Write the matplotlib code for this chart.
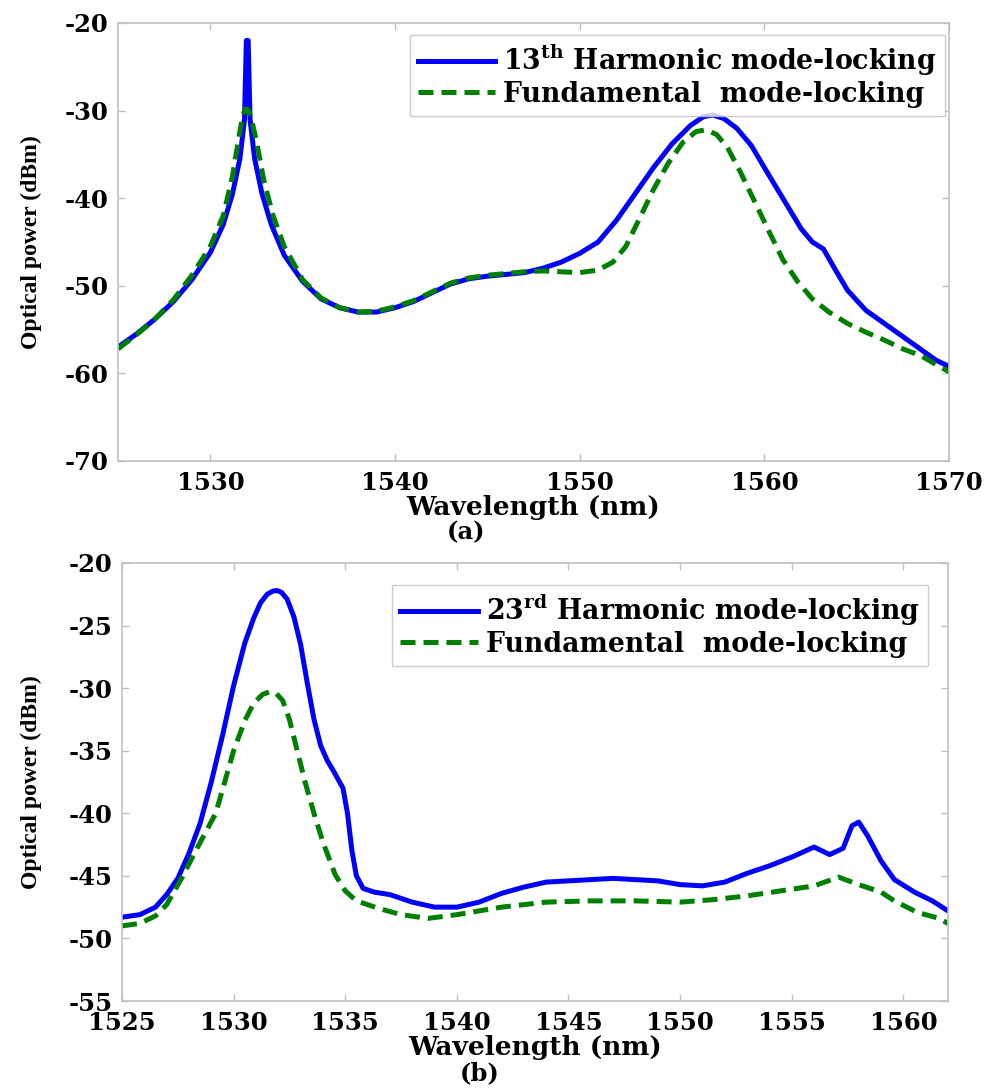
import matplotlib
matplotlib.use("Agg")
import matplotlib.pyplot as plt

# ---- data ----
# (a) 13th harmonic vs fundamental
wl_a_harm = [1525, 1526, 1527, 1528, 1529, 1530, 1530.7, 1531.2, 1531.6, 1531.85, 1531.95,
             1532.05, 1532.15, 1532.4, 1532.8, 1533.3, 1534, 1535, 1536, 1537, 1538, 1539,
             1540, 1541, 1542, 1543, 1544, 1545, 1546, 1547, 1548, 1549, 1550, 1551, 1552,
             1553, 1554, 1555, 1556, 1556.7, 1557.2, 1557.8, 1558.5, 1559.3, 1560, 1561,
             1562, 1562.6, 1563.2, 1563.8, 1564.5, 1565.5, 1566.5, 1567.5, 1568.5, 1569.3, 1570]
pw_a_harm = [-57.0, -55.5, -53.8, -51.8, -49.3, -46.2, -43.0, -39.5, -35.5, -31.0, -22.0,
             -22.0, -31.0, -35.5, -39.5, -43.0, -46.5, -49.5, -51.5, -52.5, -53.0, -53.0,
             -52.5, -51.8, -50.8, -49.8, -49.2, -48.9, -48.7, -48.5, -48.0, -47.3, -46.3,
             -45.0, -42.5, -39.5, -36.5, -33.8, -31.7, -30.7, -30.5, -30.9, -32.0, -34.0,
             -36.5, -40.0, -43.5, -45.0, -45.8, -48.0, -50.5, -52.8, -54.3, -55.8, -57.3,
             -58.5, -59.2]

wl_a_fund = [1525, 1526, 1527, 1528, 1529, 1530, 1530.7, 1531.2, 1531.55, 1531.75, 1531.9,
             1532.05, 1532.2, 1532.5, 1532.9, 1533.4, 1534, 1535, 1536, 1537, 1538, 1539,
             1540, 1541, 1542, 1543, 1544, 1545, 1546, 1547, 1548, 1549, 1550, 1551, 1551.8,
             1552.5, 1553.2, 1554, 1554.8, 1555.6, 1556.3, 1556.8, 1557.4, 1558, 1558.7,
             1559.5, 1560.3, 1561, 1561.8, 1562.6, 1563.5, 1564.5, 1565.5, 1566.5, 1567.5,
             1568.5, 1569.3, 1570]
pw_a_fund = [-57.2, -55.6, -53.8, -51.6, -48.8, -45.5, -42.0, -37.5, -33.0, -30.6, -29.8,
             -29.9, -30.7, -33.5, -38.0, -42.0, -45.5, -49.3, -51.4, -52.5, -53.0, -52.9,
             -52.4, -51.7, -50.7, -49.7, -49.1, -48.8, -48.6, -48.4, -48.3, -48.4, -48.5,
             -48.2, -47.3, -45.5, -42.5, -39.0, -36.0, -33.6, -32.4, -32.2, -32.7, -34.2,
             -37.0, -40.5, -44.0, -47.0, -49.5, -51.5, -53.0, -54.3, -55.3, -56.2, -57.2,
             -58.0, -59.0, -59.8]

# (b) 23rd harmonic vs fundamental
wl_b_harm = [1525.0, 1525.8, 1526.5, 1527.0, 1527.5, 1528.0, 1528.5, 1529.0, 1529.5, 1530.0,
             1530.5, 1530.9, 1531.2, 1531.5, 1531.75, 1531.95, 1532.15, 1532.4, 1532.7, 1533.0,
             1533.3, 1533.6, 1533.9, 1534.2, 1534.5, 1534.9, 1535.1, 1535.3, 1535.5, 1535.8,
             1536.3, 1537.0, 1538.0, 1539.0, 1540.0, 1541.0, 1542.0, 1543.0, 1544.0, 1545.0,
             1546.0, 1547.0, 1548.0, 1549.0, 1550.0, 1551.0, 1552.0, 1553.0, 1554.0, 1555.0,
             1556.0, 1556.7, 1557.3, 1557.7, 1558.0, 1558.4, 1559.0, 1559.6, 1560.5, 1561.3,
             1562.0]
pw_b_harm = [-48.3, -48.1, -47.5, -46.5, -45.2, -43.2, -40.8, -37.5, -33.8, -29.8,
             -26.4, -24.4, -23.2, -22.5, -22.25, -22.2, -22.35, -22.9, -24.3, -26.5,
             -29.6, -32.5, -34.6, -35.8, -36.7, -38.0, -40.0, -43.0, -45.0, -46.0,
             -46.3, -46.5, -47.1, -47.5, -47.5, -47.1, -46.4, -45.9, -45.5, -45.4,
             -45.3, -45.2, -45.3, -45.4, -45.7, -45.8, -45.5, -44.8, -44.2, -43.5,
             -42.7, -43.3, -42.8, -41.0, -40.7, -41.8, -43.8, -45.3, -46.3, -47.0,
             -47.8]

wl_b_fund = [1525.0, 1525.8, 1526.5, 1527.0, 1527.7, 1528.3, 1529.2, 1529.6, 1530.0, 1530.5,
             1530.9, 1531.3, 1531.6, 1531.9, 1532.2, 1532.5, 1532.85, 1533.2, 1533.6, 1534.0,
             1534.55, 1535.0, 1535.5, 1536.5, 1537.5, 1538.7, 1540.0, 1541.0, 1542.0, 1544.0,
             1546.0, 1548.0, 1550.0, 1551.5, 1553.0, 1554.5, 1556.0, 1557.1, 1558.0, 1559.0,
             1559.6, 1560.6, 1561.6, 1562.0]
pw_b_fund = [-49.0, -48.8, -48.2, -47.3, -45.1, -43.0, -40.0, -37.5, -35.0, -32.6,
             -31.2, -30.5, -30.3, -30.4, -31.0, -32.5, -35.0, -37.5, -40.0, -42.3,
             -44.9, -46.2, -47.0, -47.6, -48.1, -48.4, -48.1, -47.8, -47.5, -47.1,
             -47.0, -47.0, -47.1, -46.9, -46.6, -46.2, -45.8, -45.1, -45.7, -46.3,
             -47.0, -47.9, -48.4, -48.8]

xticks_a = [1530, 1540, 1550, 1560, 1570]
yticks_a = [-70, -60, -50, -40, -30, -20]
xticks_b = [1525, 1530, 1535, 1540, 1545, 1550, 1555, 1560]
yticks_b = [-55, -50, -45, -40, -35, -30, -25, -20]

label_a = "13$^{\\mathbf{th}}$ Harmonic mode-locking"
label_b = "23$^{\\mathbf{rd}}$ Harmonic mode-locking"
label_fund = "Fundamental  mode-locking"

# ---- style ----
plt.rcParams['font.family'] = ['DejaVu Serif']
plt.rcParams['font.weight'] = 'bold'
plt.rcParams['mathtext.fontset'] = 'dejavuserif'
plt.rcParams['axes.unicode_minus'] = False
BLUE = '#0000ff'
GREEN = '#007f00'
AXCOL = '#c0c0c0'
FS = 17.5

W, H = 989, 1090
fig = plt.figure(figsize=(W / 100, H / 100), dpi=100)


def px_axes(l, t, r, b):
    return fig.add_axes([l / W, 1 - b / H, (r - l) / W, (b - t) / H])


def style(ax):
    for s in ax.spines.values():
        s.set_color(AXCOL)
        s.set_linewidth(1.2)
    ax.tick_params(direction='in', length=5, width=1, color=AXCOL,
                   top=True, right=True, labelsize=FS, pad=7)
    for lab in ax.get_xticklabels() + ax.get_yticklabels():
        lab.set_fontweight('bold')


def panel(ax, xw1, yp1, xw2, yp2, lab1, xlim, ylim, xt, yt, leg_anchor):
    ax.plot(xw1, yp1, color=BLUE, lw=3.6, label=lab1)
    ax.plot(xw2, yp2, color=GREEN, lw=3.6, ls=(0, (3, 1.6)), label=label_fund)
    ax.set_xlim(*xlim)
    ax.set_ylim(*ylim)
    ax.set_xticks(xt)
    ax.set_yticks(yt)
    style(ax)
    ax.set_xlabel("Wavelength (nm)", fontsize=19, fontweight='bold', labelpad=0)
    ax.set_ylabel("Optical power (dBm)", fontsize=17, fontweight='bold',
                  family='Liberation Serif')
    leg = ax.legend(loc='upper right', bbox_to_anchor=leg_anchor, fontsize=19.3,
                    frameon=True, fancybox=False, handlelength=2.9,
                    handletextpad=0.3, labelspacing=0.1, borderpad=0.3,
                    borderaxespad=0)
    leg.get_frame().set_edgecolor(AXCOL)
    leg.get_frame().set_linewidth(1.0)
    for t in leg.get_texts():
        t.set_fontweight('bold')
    return ax


ax1 = px_axes(118, 23, 949, 461)
panel(ax1, wl_a_harm, pw_a_harm, wl_a_fund, pw_a_fund, label_a,
      (1525, 1570), (-70, -20), xticks_a, yticks_a, (0.995, 0.973))
ax1.yaxis.set_label_coords(-0.092, 0.5)

ax2 = px_axes(122, 563, 948, 1001)
panel(ax2, wl_b_harm, pw_b_harm, wl_b_fund, pw_b_fund, label_b,
      (1525, 1562), (-55, -20), xticks_b, yticks_b, (0.976, 0.95))
ax2.yaxis.set_label_coords(-0.097, 0.5)

fig.text(466 / W, 1 - 532 / H, "(a)", fontsize=FS, fontweight='bold',
         ha='center', va='center')
fig.text(480 / W, 1 - 1073 / H, "(b)", fontsize=FS, fontweight='bold',
         ha='center', va='center')

fig.savefig("out.png", dpi=100)
